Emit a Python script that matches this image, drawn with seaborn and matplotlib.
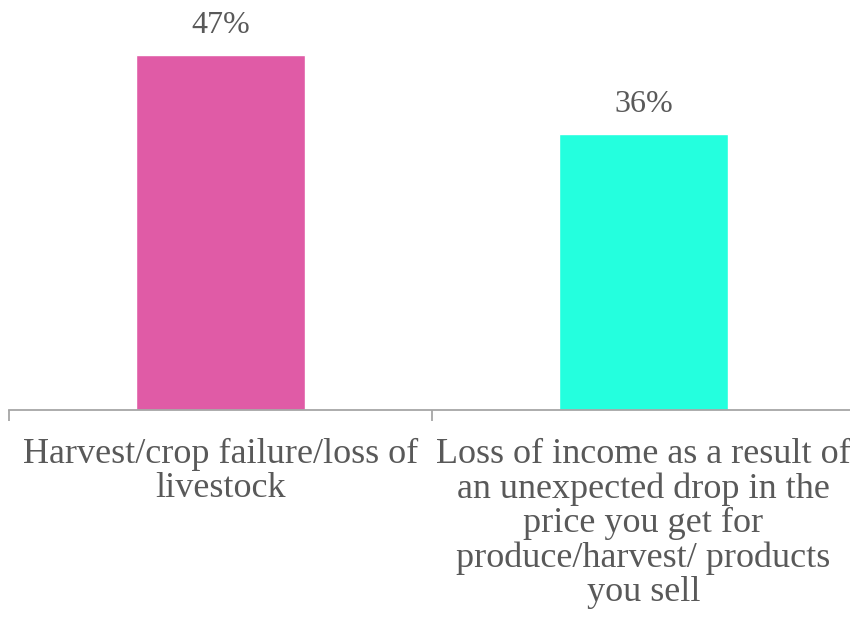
import matplotlib
matplotlib.use("Agg")
import matplotlib.pyplot as plt
import seaborn as sns
import pandas as pd

categories = ["Harvest/crop failure/loss of\nlivestock",
              "Loss of income as a result of\nan unexpected drop in the\nprice you get for\nproduce/harvest/ products\nyou sell"]
values = [47, 36.5]
labels = ["47%", "36%"]
colors = ["#E05BA6", "#24FFDE"]

sns.set_theme(style="white")
plt.rcParams['font.family'] = ['Liberation Serif', 'DejaVu Serif']

fig = plt.figure(figsize=(8.5, 6.28), dpi=100)
ax = fig.add_axes([9/850, 1-410/628, 846/850, 410/628])
df = pd.DataFrame({"cat": categories, "val": values})
sns.barplot(data=df, x="cat", y="val", hue="cat", palette=colors, width=0.4,
            ax=ax, legend=False, saturation=1)
ax.set_ylim(0, 47*410/355)
ax.set_xlim(-0.5, 1.5)
for i, (v, t) in enumerate(zip(values, labels)):
    ax.annotate(t, (i, v), xytext=(0, 22), textcoords="offset pixels",
                ha="center", va="baseline", fontsize=23, color="#595959")
for s in ["top", "right", "left"]:
    ax.spines[s].set_visible(False)
ax.spines["bottom"].set_color("#A6A6A6")
ax.spines["bottom"].set_linewidth(1.3)
ax.set_yticks([])
ax.set_xticks([0, 1])
ax.set_xticklabels(categories, fontsize=26, color="#595959", linespacing=1.05)
ax.tick_params(axis="x", which="major", length=0, pad=20)
ax.set_xticks([-0.5, 0.5, 1.5], minor=True)
ax.tick_params(axis="x", which="minor", length=8, width=1.3, color="#A6A6A6", bottom=True)
ax.set_xlabel("")
ax.set_ylabel("")
fig.savefig("out.png", dpi=100)
